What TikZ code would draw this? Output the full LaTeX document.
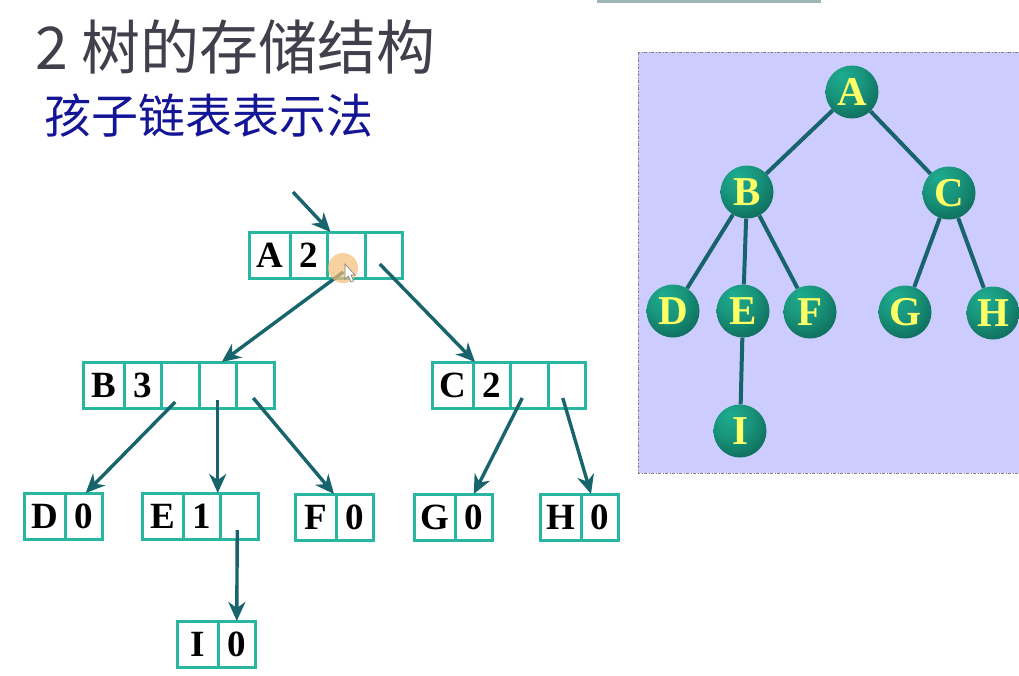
\documentclass[tikz,border=0pt]{standalone}
\usepackage{fontspec}
\setmainfont{Liberation Serif}
\newfontfamily\cjk{Noto Sans CJK SC}
\usetikzlibrary{calc,arrows.meta}
\definecolor{boxc}{RGB}{40,182,160}
\definecolor{arrc}{RGB}{24,100,108}
\definecolor{panel}{RGB}{204,204,255}
\definecolor{ballhi}{RGB}{30,172,142}
\definecolor{balldk}{RGB}{8,80,70}
\definecolor{titlec}{RGB}{64,64,76}
\definecolor{subc}{RGB}{20,20,150}
\definecolor{letc}{RGB}{255,255,102}
\definecolor{barc}{RGB}{160,182,182}
\definecolor{hilite}{RGB}{245,190,120}
\pgfdeclareradialshading{ballsh}{\pgfpoint{-10bp}{16bp}}{color(0bp)=(ballhi); color(18bp)=(ballhi!75!balldk); color(48bp)=(balldk); color(70bp)=(balldk)}
\tikzset{
  cell/.style={draw=boxc, line width=3pt, minimum height=46pt, minimum width=37.5pt,
    inner sep=0pt, outer sep=0pt, font=\fontsize{37}{37}\selectfont\bfseries, anchor=west},
  firstcell/.style={cell, minimum width=41pt},
  ptr/.style={draw=arrc, line width=3.4pt, -{Stealth[length=19pt,width=17pt,inset=6pt]}},
  ball/.style={circle, minimum size=53pt, inner sep=0pt, shading=ballsh,
    font=\fontsize{41}{41}\selectfont\bfseries, text=letc},
  tedge/.style={draw=arrc, line width=4pt},
}
\begin{document}
\begin{tikzpicture}[x=1pt,y=-1pt]
\useasboundingbox (0,0) rectangle (1019,675);
\fill[white] (0,0) rectangle (1019,675);
\fill[barc] (597,0) rectangle (821,3);
% titles
\node[anchor=base west, inner sep=0pt, text=titlec, font=\cjk\fontsize{59}{59}\selectfont] (title) at (35,69) {2 树的存储结构};
\node[anchor=base west, inner sep=0pt, text=subc, font=\cjk\fontsize{47}{47}\selectfont] (sub) at (44,133) {孩子链表表示法};
% right panel
\draw[draw=gray, fill=panel, line width=1pt, dash pattern=on 3pt off 1.5pt on 1pt off 1.5pt] (638,52) rectangle (1030,473);
\node[ball] (TA) at (852,92) {A};
\node[ball] (TB) at (747,192) {B};
\node[ball] (TC) at (949,193) {C};
\node[ball] (TD) at (673,311) {D};
\node[ball] (TE) at (743,311) {E};
\node[ball] (TF) at (810,312) {F};
\node[ball] (TG) at (905,312) {G};
\node[ball] (TH) at (993,313) {H};
\node[ball] (TI) at (740,431) {I};
\draw[tedge] (TA) -- (TB);
\draw[tedge] (TA) -- (TC);
\draw[tedge] (TB) -- (TD);
\draw[tedge] (TB) -- (TE);
\draw[tedge] (TB) -- (TF);
\draw[tedge] (TC) -- (TG);
\draw[tedge] (TC) -- (TH);
\draw[tedge] (TE) -- (TI);
% linked list boxes
\node[firstcell] (A1) at (249,255) {A};
\node[cell] (A2) at (A1.east) {2};
\node[cell] (A3) at (A2.east) {};
\node[cell] (A4) at (A3.east) {};
\node[firstcell] (B1) at (83,385) {B};
\node[cell] (B2) at (B1.east) {3};
\node[cell] (B3) at (B2.east) {};
\node[cell] (B4) at (B3.east) {};
\node[cell] (B5) at (B4.east) {};
\node[firstcell] (C1) at (432,385) {C};
\node[cell] (C2) at (C1.east) {2};
\node[cell] (C3) at (C2.east) {};
\node[cell] (C4) at (C3.east) {};
\node[firstcell] (D1) at (24,516) {D};
\node[cell] (D2) at (D1.east) {0};
\node[firstcell] (E1) at (142,516) {E};
\node[cell] (E2) at (E1.east) {1};
\node[cell] (E3) at (E2.east) {};
\node[firstcell] (F1) at (295,517) {F};
\node[cell] (F2) at (F1.east) {0};
\node[firstcell] (G1) at (414,517) {G};
\node[cell] (G2) at (G1.east) {0};
\node[firstcell] (H1) at (540,517) {H};
\node[cell] (H2) at (H1.east) {0};
\node[firstcell] (I1) at (177,644) {I};
\node[cell] (I2) at (I1.east) {0};
% pointers
\coordinate (entry) at (293,192);
\draw[ptr] (entry) -- ($(A3.north west)+(3,0)$);
\draw[ptr] ($(A3.center)+(-3,17)$) -- ($(B4.north)+(4,0)$);
\draw[ptr] ($(A4.center)+(-4,9)$) -- ($(C1.north east)+(2,0)$);
\draw[ptr] ($(B3.center)+(-5,17)$) -- ($(D2.north)+(2,0)$);
\draw[ptr] ($(B4.center)+(0,15)$) -- (B4.center |- E2.north);
\draw[ptr] ($(B5.center)+(-2,13)$) -- ($(F1.north east)+(-2,0)$);
\draw[ptr] ($(C3.center)+(-7,13)$) -- (G2.north);
\draw[ptr] ($(C4.center)+(-4,13)$) -- ($(H2.north west)+(10,0)$);
\draw[ptr] ($(E3.center)+(-2,14)$) -- (I2.north);
% cursor highlight
\fill[hilite, opacity=0.7] (343,268) circle (15);
\draw[gray, fill=white, line width=0.6pt] (345,264) -- (345,279) -- (348.5,276) -- (351,282) -- (353.5,281) -- (351,275) -- (355,275) -- cycle;
\end{tikzpicture}
\end{document}
